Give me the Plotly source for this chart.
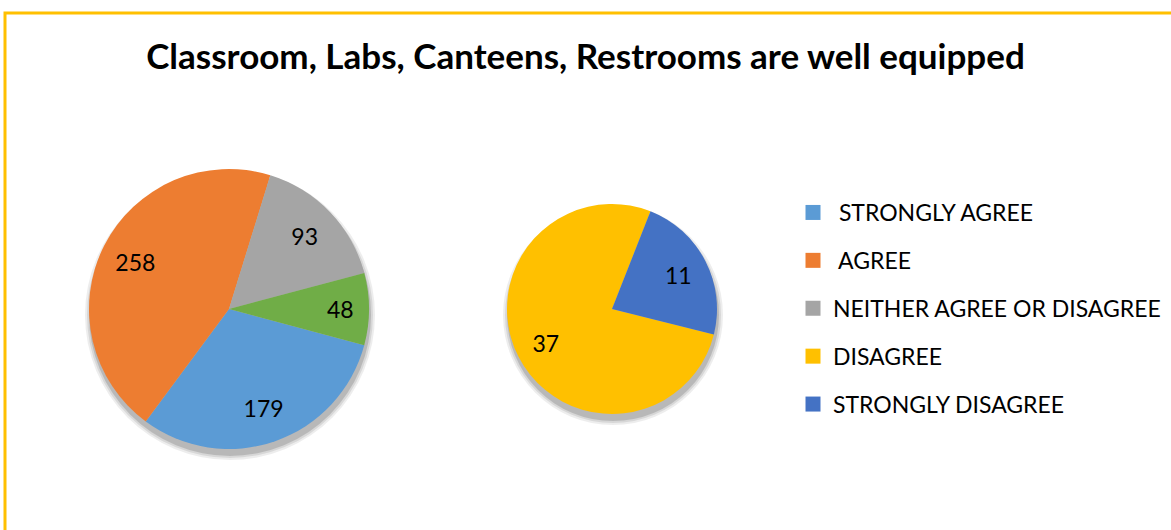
import plotly.graph_objects as go

title_text = "Classroom, Labs, Canteens, Restrooms are well equipped"
categories = ["STRONGLY AGREE", "AGREE", "NEITHER AGREE OR DISAGREE", "DISAGREE", "STRONGLY DISAGREE"]
legend_names = ["\u00a0STRONGLY AGREE", "\u00a0AGREE", "NEITHER AGREE OR DISAGREE", "DISAGREE", "STRONGLY DISAGREE"]
counts = [179, 258, 93, 37, 11]
colors = ["#5B9BD5", "#ED7D31", "#A5A5A5", "#FFC000", "#4472C4"]
other_color = "#70AD47"

main_labels = categories[:3] + ["OTHER"]
main_values = counts[:3] + [sum(counts[3:])]
main_colors = colors[:3] + [other_color]
sub_labels = categories[3:]
sub_values = counts[3:]
sub_colors = colors[3:]

W, H = 1171, 530
LABEL_FONT = dict(family="Lato", size=23, color="black")


def dom(cx, cy, r, dx=0, dy=0):
    return dict(x=[(cx - r + dx) / W, (cx + r + dx) / W],
                y=[1 - (cy + r + dy) / H, 1 - (cy - r + dy) / H])


fig = go.Figure()

# soft drop shadows
for (cx, cy, r, tot) in [(229, 309, 140, sum(main_values)), (612, 309, 105, sum(sub_values))]:
    for extra, op in [(5, 0.07), (3, 0.09), (1, 0.14)]:
        fig.add_trace(go.Pie(values=[tot], labels=["shadow"], sort=False,
                             marker=dict(colors=[f"rgba(0,0,0,{op})"], line=dict(width=0)),
                             textinfo="none", hoverinfo="skip", showlegend=False,
                             domain=dom(cx, cy, r + extra, 1, 6)))


def add_pie(values, labels, cols, rotation, d, hole):
    # solid pie
    fig.add_trace(go.Pie(values=values, labels=labels, sort=False, direction="clockwise",
                         rotation=rotation, marker=dict(colors=cols, line=dict(width=0)),
                         textinfo="none", showlegend=False, domain=d))
    # transparent ring carrying the value labels further out
    fig.add_trace(go.Pie(values=values, labels=labels, sort=False, direction="clockwise",
                         rotation=rotation, hole=hole,
                         marker=dict(colors=["rgba(0,0,0,0)"] * len(values), line=dict(width=0)),
                         textinfo="value", textposition="inside",
                         insidetextorientation="horizontal", textfont=LABEL_FONT,
                         hoverinfo="skip", showlegend=False, domain=d))


add_pie(main_values, main_labels, main_colors, 105, dom(229, 309, 140), 0.5)
add_pie(sub_values, sub_labels, sub_colors, 104, dom(612, 309, 105), 0.42)

for name, c in zip(legend_names, colors):
    fig.add_trace(go.Scatter(x=[None], y=[None], mode="markers", name=name, legendgroup=name,
                             marker=dict(symbol="square", size=15, color=c)))

fig.update_layout(
    width=W, height=H,
    margin=dict(l=0, r=0, t=0, b=0),
    paper_bgcolor="white", plot_bgcolor="white",
    xaxis=dict(visible=False), yaxis=dict(visible=False),
    title=dict(text="<b>" + title_text + "</b>", x=0.5, xanchor="center",
               y=1 - 57 / H, yanchor="middle", yref="container",
               font=dict(family="Lato", size=35, color="black")),
    legend=dict(x=793 / W, y=1 - 191 / H, xanchor="left", yanchor="top",
                font=dict(family="Lato", size=23, color="black"),
                traceorder="grouped", tracegroupgap=15, bgcolor="rgba(0,0,0,0)"),
    shapes=[dict(type="rect", xref="paper", yref="paper",
                 x0=5 / W, x1=1.02, y0=-0.02, y1=1 - 13 / H,
                 line=dict(color="#FFC000", width=3), fillcolor="rgba(0,0,0,0)")],
)

fig.write_html("out.html", config={"displayModeBar": False},
               post_script="document.body.style.margin='0';")
